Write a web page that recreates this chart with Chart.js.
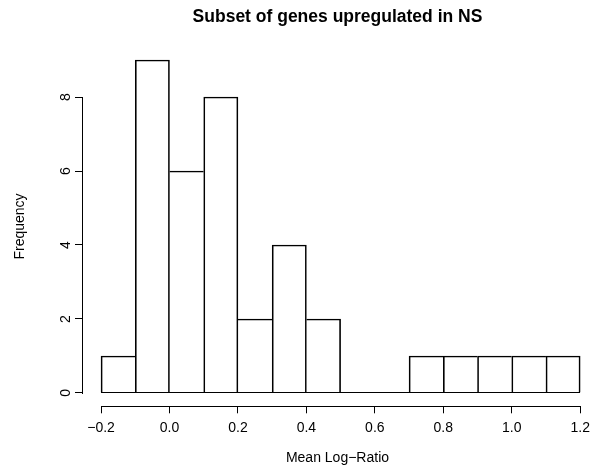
<!DOCTYPE html>
<html lang="en">

<head>
  <meta charset="UTF-8">
  <title>Subset of genes upregulated in NS</title>
  <script src="https://cdn.jsdelivr.net/npm/chart.js"></script>

  <style>
    html, body {
      margin: 0;
      padding: 0;
      background: #ffffff;
      overflow: hidden;
    }

    #myChartHist {
      display: block;
    }
  </style>

</head>

<body>

  <canvas id="myChartHist" width="596" height="467"></canvas>

</body>

</html>

<script>

  // dados do histograma (bins de 0.1)
  var binStarts = [-0.2, -0.1, 0.0, 0.1, 0.2, 0.3, 0.4, 0.5, 0.6, 0.7, 0.8, 0.9, 1.0, 1.1];
  var binWidth = 0.1;
  var counts = [1, 9, 6, 8, 2, 4, 2, 0, 0, 1, 1, 1, 1, 1];

  var xTicks = [-0.2, 0.0, 0.2, 0.4, 0.6, 0.8, 1.0, 1.2];
  var yTicks = [0, 2, 4, 6, 8];

  var fonte = "'Liberation Sans', Arial, Helvetica, sans-serif";

  var dataHist = [];
  for (let i = 0; i < binStarts.length; i++) {
    dataHist.push({ x: binStarts[i] + binWidth / 2, y: counts[i] });
  }

  // evita linha dupla entre barras vizinhas
  function bordas(ctx) {
    var i = ctx.dataIndex;
    var c = counts[i];
    var ant = i > 0 ? counts[i - 1] : -1;
    var prox = i < counts.length - 1 ? counts[i + 1] : -1;
    return {
      top: 1,
      bottom: 0,
      left: ant <= c ? 1 : 0,
      right: prox < c ? 1 : 0
    };
  }

  // eixos estilo R: linha so entre o primeiro e o ultimo tick + linha de base
  const eixosR = {
    id: 'eixosR',
    afterDraw: function (chart) {
      var ctx = chart.ctx;
      var sx = chart.scales.x;
      var sy = chart.scales.y;
      var area = chart.chartArea;
      ctx.save();
      ctx.fillStyle = '#000000';

      // eixo x
      var x1 = Math.round(sx.getPixelForValue(xTicks[0]));
      var x2 = Math.round(sx.getPixelForValue(xTicks[xTicks.length - 1]));
      ctx.fillRect(x1, Math.round(area.bottom), x2 - x1 + 1, 1);

      // eixo y
      var yA = Math.round(sy.getPixelForValue(yTicks[yTicks.length - 1]));
      var yB = Math.round(sy.getPixelForValue(yTicks[0]));
      ctx.fillRect(Math.round(area.left), yA, 1, yB - yA + 1);

      // linha de base das barras
      var ultimo = binStarts.length - 1;
      var b1 = Math.round(sx.getPixelForValue(binStarts[0]));
      var b2 = Math.round(sx.getPixelForValue(binStarts[ultimo] + binWidth));
      ctx.fillRect(b1, Math.round(sy.getPixelForValue(0)) - 1, b2 - b1, 1);

      ctx.restore();
    }
  };

  const ctxHist = document.getElementById('myChartHist');

  const meuGraficoHist = new Chart(ctxHist, {
    type: 'bar',
    data: {
      datasets: [{
        label: 'Frequency',
        data: dataHist,
        backgroundColor: 'rgba(0,0,0,0)',
        borderColor: '#000000',
        borderWidth: bordas,
        borderSkipped: false,
        barPercentage: 1,
        categoryPercentage: 1
      }]
    },
    options: {
      responsive: false,
      animation: false,
      devicePixelRatio: 1,
      layout: { padding: 0 },
      plugins: {
        legend: { display: false },
        tooltip: { enabled: false },
        title: {
          display: true,
          text: 'Subset of genes upregulated in NS',
          color: '#000000',
          fullSize: false,
          font: { family: fonte, size: 17.5, weight: 'bold' },
          padding: { top: 6.5, bottom: 19.2 }
        }
      },
      scales: {
        x: {
          type: 'linear',
          offset: false,
          min: -0.2556,
          max: 1.2373,
          afterBuildTicks: (s) => { s.ticks = xTicks.map(v => ({ value: v })); },
          afterFit: (s) => { s.height = 60.7; },
          border: { display: false },
          grid: {
            display: true,
            offset: false,
            drawOnChartArea: false,
            drawTicks: true,
            tickLength: 7,
            color: '#000000'
          },
          ticks: {
            color: '#000000',
            font: { family: fonte, size: 14 },
            padding: 6,
            maxRotation: 0,
            autoSkip: false,
            callback: (v) => v.toFixed(1).replace('-', '\u2212')
          },
          title: {
            display: true,
            text: 'Mean Log\u2212Ratio',
            color: '#000000',
            font: { family: fonte, size: 14 },
            padding: { top: 0, bottom: 0 }
          }
        },
        y: {
          type: 'linear',
          offset: false,
          min: -0.36,
          max: 9.36,
          afterBuildTicks: (s) => { s.ticks = yTicks.map(v => ({ value: v })); },
          afterFit: (s) => { s.width = 82; },
          border: { display: false },
          grid: {
            display: true,
            offset: false,
            drawOnChartArea: false,
            drawTicks: true,
            tickLength: 7,
            color: '#000000'
          },
          ticks: {
            color: '#000000',
            font: { family: fonte, size: 14 },
            padding: 5,
            minRotation: 90,
            maxRotation: 90,
            crossAlign: 'center',
            autoSkip: false
          },
          title: {
            display: true,
            text: 'Frequency',
            color: '#000000',
            font: { family: fonte, size: 14 },
            padding: { top: 12, bottom: 2 }
          }
        }
      }
    },
    plugins: [eixosR]
  });

</script>
